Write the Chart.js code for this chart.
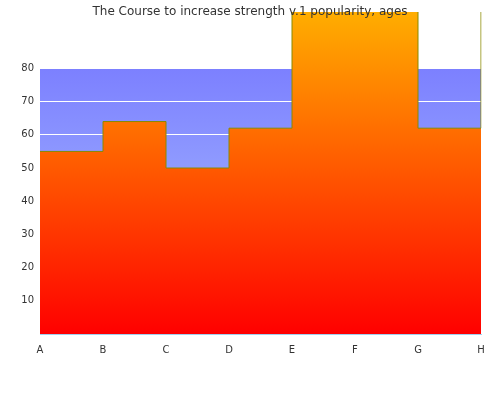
<!DOCTYPE html>
<html><head><meta charset="utf-8">
<script src="https://cdn.jsdelivr.net/npm/chart.js@4"></script>
<style>body{margin:0;background:#fff}#w{width:500px;height:400px}</style>
</head><body><div id="w"><canvas id="c"></canvas></div>
<script>
const categories = ['A','B','C','D','E','F','G','H'];
const values = [55, 64, 50, 62, 110, 110, 62, 110];
const yTicks = [10,20,30,40,50,60,70,80];
const titleText = 'The Course to increase strength v.1 popularity, ages';

const bgPlugin = {
  id: 'bg',
  beforeDraw(chart) {
    const {ctx, chartArea: a} = chart;
    const top = chart.scales.y.getPixelForValue(80);
    const g = ctx.createLinearGradient(0, top, 0, a.bottom);
    g.addColorStop(0, '#7c80ff');
    g.addColorStop(1, '#b0c8ff');
    ctx.save(); ctx.fillStyle = g; ctx.fillRect(a.left, top, a.right - a.left, a.bottom - top); ctx.restore();
  },
  afterDraw(chart) {
    const ctx = chart.ctx;
    ctx.save(); ctx.fillStyle = '#333'; ctx.font = '12px "DejaVu Sans"';
    ctx.textAlign = 'center'; ctx.textBaseline = 'middle';
    ctx.fillText(titleText, 250, 12); ctx.restore();
  }
};

new Chart(document.getElementById('c'), {
  type: 'line',
  data: { labels: categories, datasets: [{
    data: values, stepped: true, fill: 'origin',
    borderColor: '#8a8a00', borderWidth: 1, pointRadius: 0,
    backgroundColor(ctx) {
      const c = ctx.chart, a = c.chartArea;
      if (!a) return '#ff6000';
      const g = c.ctx.createLinearGradient(0, a.bottom, 0, 0);
      g.addColorStop(0, '#ff0000');
      g.addColorStop(1, '#ffb400');
      return g;
    }
  }]},
  options: {
    responsive: true, maintainAspectRatio: false, animation: false,
    layout: { padding: { left: 0, right: 19, top: 0, bottom: 34 } },
    plugins: { legend: { display: false }, tooltip: { enabled: false }, title: { display: false } },
    scales: {
      x: { offset: false, grid: { display: false, drawTicks: false },
        border: { color: '#a0d0f0' },
        ticks: { color: '#333', font: { family: 'DejaVu Sans', size: 10 }, padding: 10, maxRotation: 0 } },
      y: { min: 0, max: 97, afterBuildTicks(s) { s.ticks = yTicks.map(v => ({value: v})); },
        afterFit(s) { s.width = 40; },
        grid: { color: '#ffffff', drawTicks: false }, border: { display: false },
        ticks: { color: '#333', font: { family: 'DejaVu Sans', size: 10 }, padding: 6 } }
    }
  },
  plugins: [bgPlugin]
});
</script></body></html>
